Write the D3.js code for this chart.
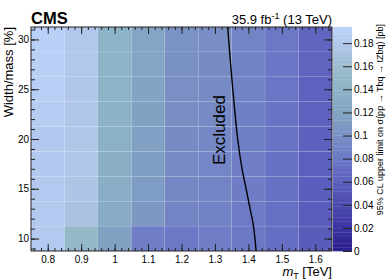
<!DOCTYPE html>
<html>
<head>
<meta charset="utf-8">
<script src="https://cdn.jsdelivr.net/npm/d3@7"></script>
<style>
  body { margin: 0; background: #fff; }
  svg { display: block; font-family: "Liberation Sans", Arial, sans-serif; }
</style>
</head>
<body>
<div id="chart"></div>
<script>
// bin centres
const massBins = [0.8, 0.9, 1.0, 1.1, 1.2, 1.3, 1.4, 1.5, 1.6];
const widthBins = [10, 12.5, 15, 17.5, 20, 22.5, 25, 27.5, 30];
// upper limit [pb], one row per width bin (bottom to top)
const limits = [
  [0.181, 0.150, 0.118, 0.085, 0.080, 0.085, 0.080, 0.072, 0.056],
  [0.181, 0.172, 0.130, 0.108, 0.090, 0.088, 0.082, 0.073, 0.057],
  [0.181, 0.175, 0.132, 0.112, 0.093, 0.090, 0.084, 0.074, 0.058],
  [0.180, 0.176, 0.134, 0.114, 0.095, 0.092, 0.085, 0.075, 0.059],
  [0.180, 0.176, 0.136, 0.116, 0.097, 0.093, 0.086, 0.076, 0.060],
  [0.185, 0.177, 0.138, 0.118, 0.099, 0.095, 0.087, 0.077, 0.061],
  [0.187, 0.178, 0.139, 0.120, 0.100, 0.096, 0.088, 0.078, 0.062],
  [0.188, 0.179, 0.140, 0.121, 0.101, 0.097, 0.089, 0.079, 0.063],
  [0.188, 0.179, 0.140, 0.122, 0.102, 0.098, 0.090, 0.080, 0.064]
];
// exclusion contour (mass, width)
const contourMass = [1.338, 1.352, 1.368, 1.381, 1.392, 1.405, 1.415, 1.423];
const contourWidth = [31.25, 25.5, 20, 17, 15.2, 13, 11.3, 8.75];
// palette stops
const paletteVals = [0, 0.02, 0.04, 0.06, 0.08, 0.10, 0.12, 0.14, 0.16, 0.18, 0.194];
const paletteCols = ['#2b1d8c', '#3b33a3', '#4c4aae', '#5d60bd', '#6b78c6', '#7a90c4',
                     '#83a4c4', '#8db4c6', '#9cbccc', '#b2c8ee', '#bcd4fc'];
const xTicks = [0.8, 0.9, 1, 1.1, 1.2, 1.3, 1.4, 1.5, 1.6];
const yTicks = [10, 15, 20, 25, 30];
const zTicks = [0, 0.02, 0.04, 0.06, 0.08, 0.1, 0.12, 0.14, 0.16, 0.18];

const width = 390, height = 280;
const margin = { top: 27, left: 31, bottom: 29, right: 58 };
const x0 = margin.left, x1 = width - margin.right, y0 = margin.top, y1 = height - margin.bottom;

const x = d3.scaleLinear().domain([0.75, 1.65]).range([x0, x1]);
const y = d3.scaleLinear().domain([8.75, 31.25]).range([y1, y0]);
const z = d3.scaleLinear().domain([0, 0.194]).range([y1, y0]);
const color = d3.scaleLinear().domain(paletteVals).range(paletteCols).clamp(true);

const svg = d3.select('#chart').append('svg')
  .attr('width', width).attr('height', height);

// cells
const cells = [];
widthBins.forEach((w, j) => massBins.forEach((m, i) => cells.push({ m, w, v: limits[j][i] })));
svg.append('g').selectAll('rect')
  .data(cells)
  .join('rect')
  .attr('x', d => x(d.m - 0.05))
  .attr('y', d => y(d.w + 1.25))
  .attr('width', d => x(d.m + 0.05) - x(d.m - 0.05))
  .attr('height', d => y(d.w - 1.25) - y(d.w + 1.25))
  .attr('fill', d => color(d.v))
  .attr('stroke', 'rgba(255,255,255,0.12)')
  .attr('stroke-width', 0.6);

// contour
const line = d3.line()
  .x(d => x(d[0])).y(d => y(d[1]))
  .curve(d3.curveCatmullRom);
svg.append('path')
  .datum(contourMass.map((m, i) => [m, contourWidth[i]]))
  .attr('d', line)
  .attr('fill', 'none')
  .attr('stroke', '#000')
  .attr('stroke-width', 1.4);

svg.append('text')
  .attr('transform', `translate(225,130) rotate(-90)`)
  .attr('text-anchor', 'middle')
  .attr('font-size', 17)
  .text('Excluded');

// axes
const clean = g => g.select('.domain').remove();
const fmt = d3.format('~g');
svg.append('g').attr('transform', `translate(0,${y1})`)
  .call(d3.axisBottom(x).tickValues(d3.range(0.76, 1.65, 0.02)).tickSize(-3).tickFormat(''))
  .call(clean);
svg.append('g').attr('transform', `translate(0,${y1})`)
  .call(d3.axisBottom(x).tickValues(xTicks).tickSize(-7).tickPadding(4.5).tickFormat(fmt))
  .call(clean);
svg.append('g').attr('transform', `translate(0,${y0})`)
  .call(d3.axisTop(x).tickValues(d3.range(0.76, 1.65, 0.02)).tickSize(-3).tickFormat(''))
  .call(clean);
svg.append('g').attr('transform', `translate(0,${y0})`)
  .call(d3.axisTop(x).tickValues(xTicks).tickSize(-7).tickFormat(''))
  .call(clean);
svg.append('g').attr('transform', `translate(${x0},0)`)
  .call(d3.axisLeft(y).tickValues(d3.range(9, 31.5, 1)).tickSize(-4).tickFormat(''))
  .call(clean);
svg.append('g').attr('transform', `translate(${x0},0)`)
  .call(d3.axisLeft(y).tickValues(yTicks).tickSize(-8).tickPadding(2))
  .call(clean);
svg.append('g').attr('transform', `translate(${x1},0)`)
  .call(d3.axisRight(y).tickValues(d3.range(9, 31.5, 1)).tickSize(-4).tickFormat(''))
  .call(clean);
svg.append('g').attr('transform', `translate(${x1},0)`)
  .call(d3.axisRight(y).tickValues(yTicks).tickSize(-8).tickFormat(''))
  .call(clean);
svg.selectAll('.tick line').attr('stroke', '#222');
svg.selectAll('.tick text').attr('font-size', 10).attr('fill', '#000')
  .attr('font-family', '"Liberation Sans", Arial, sans-serif');

// frame
svg.append('rect')
  .attr('x', x0).attr('y', y0).attr('width', x1 - x0).attr('height', y1 - y0)
  .attr('fill', 'none').attr('stroke', '#222').attr('stroke-width', 1);

// colour bar
const cbX = x1 + 1, cbW = 19;
const bands = d3.range(0, 0.194, 0.194 / 60);
svg.append('g').selectAll('rect')
  .data(bands)
  .join('rect')
  .attr('x', cbX)
  .attr('y', d => z(d + 0.194 / 60))
  .attr('width', cbW)
  .attr('height', d => z(d) - z(d + 0.194 / 60) + 0.3)
  .attr('fill', d => color(d + 0.194 / 120));
const zAx = svg.append('g').attr('transform', `translate(${cbX + cbW},0)`)
  .call(d3.axisRight(z).tickValues(zTicks).tickSize(-9).tickPadding(2).tickFormat(fmt))
  .call(clean);
zAx.selectAll('line').attr('stroke', '#222');
zAx.selectAll('text').attr('font-size', 10)
  .attr('font-family', '"Liberation Sans", Arial, sans-serif');

// titles
svg.append('text')
  .attr('x', x0).attr('y', 24)
  .attr('font-size', 16.5).attr('font-weight', 'bold')
  .text('CMS');
const lumi = svg.append('text')
  .attr('x', x1).attr('y', 24)
  .attr('text-anchor', 'end')
  .attr('font-size', 13);
lumi.append('tspan').text('35.9 fb');
lumi.append('tspan').attr('dy', -5).attr('font-size', 9).text('-1');
lumi.append('tspan').attr('dy', 5).text(' (13 TeV)');

const xt = svg.append('text')
  .attr('x', x1).attr('y', 276)
  .attr('text-anchor', 'end')
  .attr('font-size', 13);
xt.append('tspan').attr('font-style', 'italic').text('m');
xt.append('tspan').attr('dy', 3).attr('font-size', 9).text('T');
xt.append('tspan').attr('dy', -3).text(' [TeV]');

svg.append('text')
  .attr('transform', `translate(13,${y0}) rotate(-90)`)
  .attr('text-anchor', 'end')
  .attr('font-size', 13)
  .text('Width/mass [%]');

svg.append('text')
  .attr('transform', `translate(383,24) rotate(-90)`)
  .attr('text-anchor', 'end')
  .attr('font-size', 9)
  .text('95% CL upper limit on σ(pp → Tbq → tZbq) [pb]');
</script>
</body>
</html>
